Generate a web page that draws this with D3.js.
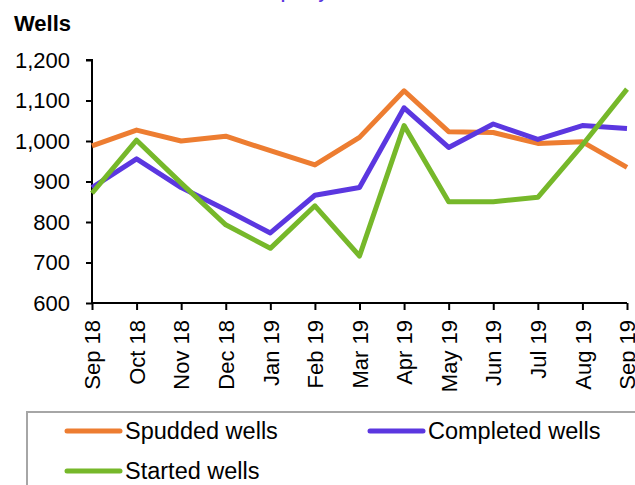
<!DOCTYPE html>
<html>
<head>
<meta charset="utf-8">
<script src="https://cdn.jsdelivr.net/npm/d3@7"></script>
<style>
  html, body { margin: 0; padding: 0; background: #fff; }
  svg { display: block; }
  text { font-family: "Liberation Sans", Arial, sans-serif; fill: #000; }
</style>
</head>
<body>
<svg id="chart" width="635" height="485"></svg>
<script>
const months = ["Sep 18","Oct 18","Nov 18","Dec 18","Jan 19","Feb 19","Mar 19","Apr 19","May 19","Jun 19","Jul 19","Aug 19","Sep 19"];
const spudded   = [988, 1027, 1000, 1012, 976, 941, 1009, 1124, 1023, 1021, 994, 998, 935];
const completed = [885, 956, 885, 830, 773, 866, 885, 1082, 984, 1042, 1004, 1038, 1031];
const started   = [871, 1002, 896, 793, 735, 840, 716, 1038, 850, 850, 861, 990, 1128];
const yTicks = [600, 700, 800, 900, 1000, 1100, 1200];
const seriesNames = ["Spudded wells", "Completed wells", "Started wells"];
const seriesColors = ["#ED7D31", "#5B37E0", "#76B82A"];

const series = [
  {name: seriesNames[0], values: spudded, color: seriesColors[0]},
  {name: seriesNames[1], values: completed, color: seriesColors[1]},
  {name: seriesNames[2], values: started, color: seriesColors[2]}
];

const svg = d3.select("#chart");
const plotL = 92, plotR = 627, plotT = 60, plotB = 303;

const x = d3.scalePoint().domain(months).range([plotL, plotR]);
const y = d3.scaleLinear().domain([600, 1200]).range([plotB, plotT]);

// partially visible title (cut off at top, as in the reference)
svg.append("text")
  .attr("x", 226).attr("y", -1)
  .style("font-size", "16px").style("font-weight", "bold")
  .style("fill", "#5B37E0")
  .text("Well capacity");

svg.append("text")
  .attr("x", 14).attr("y", 31)
  .style("font-size", "22px").style("font-weight", "bold")
  .text("Wells");

// y axis
const yAxis = svg.append("g")
  .attr("transform", `translate(${plotL},0)`)
  .call(d3.axisLeft(y).tickValues(yTicks).tickFormat(d3.format(",")).tickSize(6).tickPadding(16));
yAxis.select(".domain").attr("stroke", "#000").attr("stroke-width", 2).attr("d", `M-6,${plotT}H0V${plotB}`);
yAxis.selectAll(".tick line").attr("stroke", "#000").attr("stroke-width", 2);
yAxis.selectAll("text").style("font-size", "22px").attr("font-family", null);

// x axis
const xAxis = svg.append("g")
  .attr("transform", `translate(0,${plotB})`)
  .call(d3.axisBottom(x).tickSize(7).tickPadding(0));
xAxis.select(".domain").attr("stroke", "#000").attr("stroke-width", 2).attr("d", `M${plotL},0H${plotR}`);
xAxis.selectAll(".tick line").attr("stroke", "#000").attr("stroke-width", 2);
xAxis.selectAll("text")
  .attr("transform", "rotate(-90)")
  .attr("text-anchor", "end")
  .attr("x", -17).attr("y", 0).attr("dy", "0.35em")
  .style("font-size", "22px").attr("font-family", null);

// lines
const line = d3.line().x((d, i) => x(months[i])).y(d => y(d));
svg.append("g").selectAll("path")
  .data(series)
  .join("path")
  .attr("d", d => line(d.values))
  .attr("fill", "none")
  .attr("stroke", d => d.color)
  .attr("stroke-width", 5)
  .attr("stroke-linejoin", "round")
  .attr("stroke-linecap", "butt");

// legend
const lg = svg.append("g");
lg.append("rect")
  .attr("x", 27).attr("y", 412).attr("width", 700).attr("height", 120)
  .attr("fill", "none").attr("stroke", "#A6A6A6").attr("stroke-width", 2);
const legendPos = [{lx: 67, ly: 431}, {lx: 370, ly: 431}, {lx: 67, ly: 471}];
series.forEach((s, i) => {
  const p = legendPos[i];
  lg.append("line")
    .attr("x1", p.lx).attr("x2", p.lx + 53)
    .attr("y1", p.ly).attr("y2", p.ly)
    .attr("stroke", s.color).attr("stroke-width", 5).attr("stroke-linecap", "round");
  lg.append("text")
    .attr("x", p.lx + 58).attr("y", p.ly).attr("dy", "0.35em")
    .style("font-size", "23.5px")
    .text(s.name);
});
</script>
</body>
</html>
